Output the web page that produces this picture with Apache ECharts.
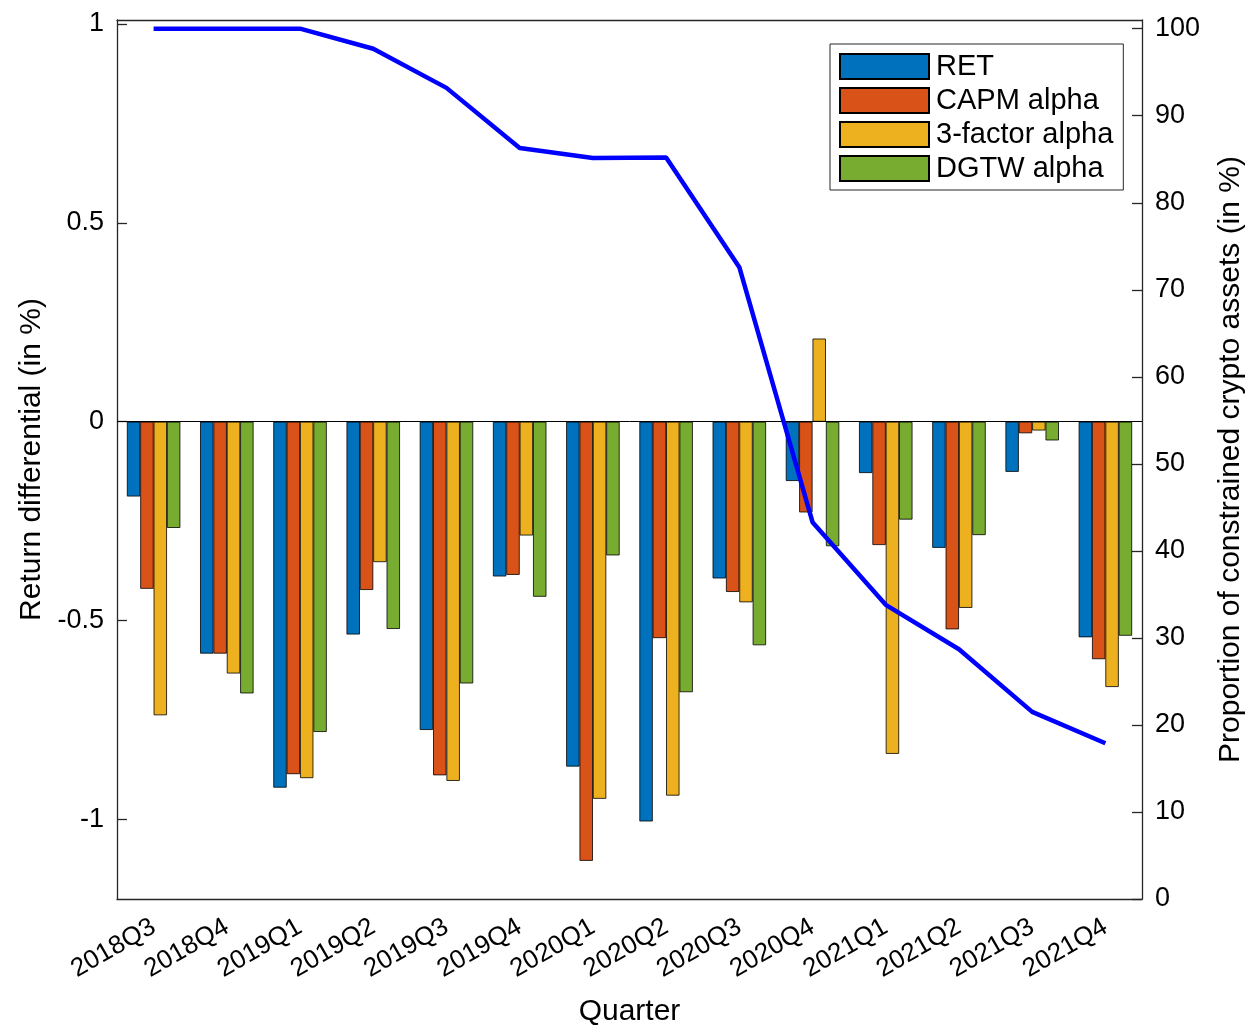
<!DOCTYPE html>
<html>
<head>
<meta charset="utf-8">
<script src="https://cdn.jsdelivr.net/npm/echarts@6/dist/echarts.min.js"></script>
<style>
  * { margin: 0; padding: 0; }
  html, body { background: #fff; }
  #chart { width: 1254px; height: 1032px; }
</style>
</head>
<body>
<div id="chart"></div>
<script>
// quarters on the x axis
var quarters = ['2018Q3', '2018Q4', '2019Q1', '2019Q2', '2019Q3', '2019Q4', '2020Q1',
  '2020Q2', '2020Q3', '2020Q4', '2021Q1', '2021Q2', '2021Q3', '2021Q4']

// return differentials (in %)
var ret = [-0.188, -0.583, -0.920, -0.535, -0.775, -0.389, -0.867, -1.005, -0.394, -0.149, -0.129, -0.317, -0.126, -0.542]
var capm = [-0.420, -0.583, -0.886, -0.423, -0.889, -0.385, -1.104, -0.544, -0.428, -0.228, -0.310, -0.522, -0.029, -0.597]
var threeFactor = [-0.738, -0.633, -0.896, -0.353, -0.903, -0.286, -0.948, -0.940, -0.454, 0.209, -0.835, -0.468, -0.022, -0.667]
var dgtw = [-0.267, -0.683, -0.780, -0.521, -0.658, -0.440, -0.336, -0.680, -0.562, -0.313, -0.246, -0.285, -0.047, -0.538]

// proportion of constrained crypto assets (in %)
var constrained = [100, 100, 100, 97.7, 93.2, 86.3, 85.15, 85.2, 72.6, 43.3, 33.8, 28.7, 21.5, 17.9]

// tick labels
var leftTicks = [-1, -0.5, 0, 0.5, 1]
var rightTicks = [0, 10, 20, 30, 40, 50, 60, 70, 80, 90, 100]

var font = '"Liberation Sans", Arial, Helvetica, sans-serif'
var axisColor = '#262626'

var chart = echarts.init(document.getElementById('chart'))

function barSeries (name, data, color) {
  return {
    name: name,
    type: 'bar',
    data: data,
    barGap: '0%',
    barCategoryGap: '27%',
    itemStyle: { color: color, borderColor: '#000', borderWidth: 0.8 },
    z: 2
  }
}

var bars = [
  barSeries('RET', ret, '#0072BD'),
  barSeries('CAPM alpha', capm, '#D95319'),
  barSeries('3-factor alpha', threeFactor, '#EDB120'),
  barSeries('DGTW alpha', dgtw, '#77AC30')
]
// zero line
bars[0].markLine = {
  silent: true,
  symbol: ['none', 'none'],
  label: { show: false },
  lineStyle: { color: '#000', width: 1, type: 'solid' },
  data: [{ yAxis: 0 }]
}

var option = {
  animation: false,
  backgroundColor: '#fff',
  textStyle: { fontFamily: font },
  grid: { left: 117, right: 106, top: 20, bottom: 125, containLabel: false },
  legend: {
    orient: 'vertical',
    left: 830,
    top: 44,
    padding: [8, 10, 7, 9],
    itemGap: 5,
    itemWidth: 89,
    itemHeight: 25,
    icon: 'rect',
    backgroundColor: '#fff',
    borderColor: axisColor,
    borderWidth: 1,
    borderRadius: 0,
    textStyle: { fontFamily: font, fontSize: 29, color: '#000', padding: [0, 0, 0, 2] },
    data: ['RET', 'CAPM alpha', '3-factor alpha', 'DGTW alpha']
  },
  xAxis: [
    {
      type: 'category',
      data: quarters,
      position: 'bottom',
      name: 'Quarter',
      nameLocation: 'middle',
      nameGap: 98,
      nameTextStyle: { fontFamily: font, fontSize: 30, color: '#000' },
      axisLine: { onZero: false, lineStyle: { color: axisColor, width: 1.3 } },
      axisTick: { inside: true, alignWithLabel: true, length: 10, lineStyle: { color: axisColor, width: 1.3 } },
      axisLabel: { rotate: 30, margin: 26, fontFamily: font, fontSize: 26, color: '#000', interval: 0 },
      splitLine: { show: false }
    },
    {
      type: 'category',
      data: quarters,
      position: 'top',
      axisLine: { onZero: false, lineStyle: { color: axisColor, width: 1.3 } },
      axisTick: { inside: true, alignWithLabel: true, length: 10, lineStyle: { color: axisColor, width: 1.3 } },
      axisLabel: { show: false },
      splitLine: { show: false }
    }
  ],
  yAxis: [
    {
      type: 'value',
      position: 'left',
      min: -1.2,
      max: 1.01,
      name: 'Return differential (in %)',
      nameLocation: 'middle',
      nameRotate: 90,
      nameGap: 65,
      nameTextStyle: { fontFamily: font, fontSize: 30, color: '#000' },
      axisLine: { show: true, onZero: false, lineStyle: { color: axisColor, width: 1.3 } },
      axisTick: { show: true, inside: true, length: 10, customValues: leftTicks, lineStyle: { color: axisColor, width: 1.3 } },
      axisLabel: { customValues: leftTicks, margin: 13, fontFamily: font, fontSize: 27, color: '#000' },
      splitLine: { show: false }
    },
    {
      type: 'value',
      position: 'right',
      min: 0,
      max: 101,
      name: 'Proportion of constrained crypto assets (in %)',
      nameLocation: 'middle',
      nameRotate: 90,
      nameGap: 74,
      nameTextStyle: { fontFamily: font, fontSize: 30, color: '#000' },
      axisLine: { show: true, onZero: false, lineStyle: { color: axisColor, width: 1.3 } },
      axisTick: { show: true, inside: true, length: 10, customValues: rightTicks, lineStyle: { color: axisColor, width: 1.3 } },
      axisLabel: { customValues: rightTicks, margin: 13, fontFamily: font, fontSize: 27, color: '#000' },
      splitLine: { show: false }
    }
  ],
  series: bars.concat([
    {
      name: 'Constrained',
      type: 'line',
      yAxisIndex: 1,
      data: constrained,
      symbol: 'none',
      lineStyle: { color: '#0000FF', width: 4.5 },
      itemStyle: { color: '#0000FF' },
      z: 5
    }
  ])
}

chart.setOption(option)
</script>
</body>
</html>
